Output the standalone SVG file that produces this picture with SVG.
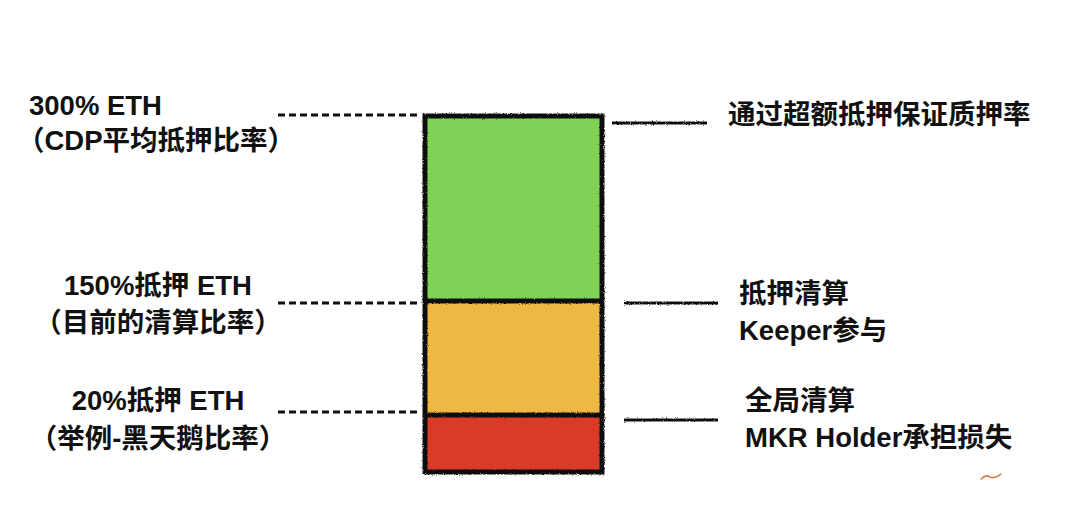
<svg xmlns="http://www.w3.org/2000/svg" width="1080" height="512" viewBox="0 0 1080 512">
  <defs>
    <filter id="rough" x="-5%" y="-5%" width="110%" height="110%">
      <feTurbulence type="fractalNoise" baseFrequency="0.9" numOctaves="2" seed="3" result="n"/>
      <feDisplacementMap in="SourceGraphic" in2="n" scale="2.5" xChannelSelector="R" yChannelSelector="G"/>
    </filter>
  </defs>
  <style>
    .t { font-family: "Liberation Sans", "Noto Sans CJK SC", sans-serif; font-weight: bold; font-size: 27.5px; fill: #111; }
    .c { text-anchor: middle; }
    .dash { stroke: #111; stroke-width: 3; stroke-dasharray: 7 4; fill: none; }
    .solid { stroke: #111; stroke-width: 3.2; fill: none; }
    .seg { stroke: #111; stroke-width: 5; }
  </style>
  <rect width="1080" height="512" fill="#ffffff"/>

  <g id="bar" filter="url(#rough)">
    <rect x="425" y="116" width="177" height="185" fill="#7ED357"/>
    <rect x="425" y="301" width="177" height="114" fill="#EFB843"/>
    <rect x="425" y="415" width="177" height="57" fill="#D93A26"/>
    <rect x="425" y="116" width="177" height="356" fill="none" class="seg"/>
    <line x1="425" y1="301" x2="602" y2="301" class="seg"/>
    <line x1="425" y1="415" x2="602" y2="415" class="seg"/>
  </g>

  <g id="connectors">
    <line x1="278" y1="115" x2="420" y2="115" class="dash"/>
    <line x1="278" y1="303" x2="420" y2="303" class="dash"/>
    <line x1="278" y1="412" x2="420" y2="412" class="dash"/>
    <g filter="url(#rough)">
      <line x1="612" y1="123" x2="707" y2="123" class="solid"/>
      <line x1="624" y1="303" x2="718" y2="303" class="solid"/>
      <line x1="624" y1="420" x2="718" y2="420" class="solid"/>
    </g>
  </g>

  <g id="label-300">
    <text class="t" x="29" y="115">300% ETH</text>
    <text class="t" x="17" y="150">（CDP平均抵押比率）</text>
  </g>
  <g id="label-150">
    <text class="t c" x="158" y="295">150%抵押 ETH</text>
    <text class="t c" x="158" y="332">（目前的清算比率）</text>
  </g>
  <g id="label-20">
    <text class="t c" x="158" y="410">20%抵押 ETH</text>
    <text class="t c" x="158" y="448">（举例-黑天鹅比率）</text>
  </g>

  <g id="desc-top">
    <text class="t" x="728" y="124">通过超额抵押保证质押率</text>
  </g>
  <g id="desc-mid">
    <text class="t" x="739" y="303">抵押清算</text>
    <text class="t" x="739" y="340">Keeper参与</text>
  </g>
  <g id="desc-bottom">
    <text class="t" x="745" y="410">全局清算</text>
    <text class="t" x="745" y="447">MKR Holder承担损失</text>
  </g>

  <path d="M981 479 Q986 474 990 477 Q995 479 1001 474" fill="none" stroke="#E2764F" stroke-width="1.6" stroke-linecap="round"/>
</svg>
